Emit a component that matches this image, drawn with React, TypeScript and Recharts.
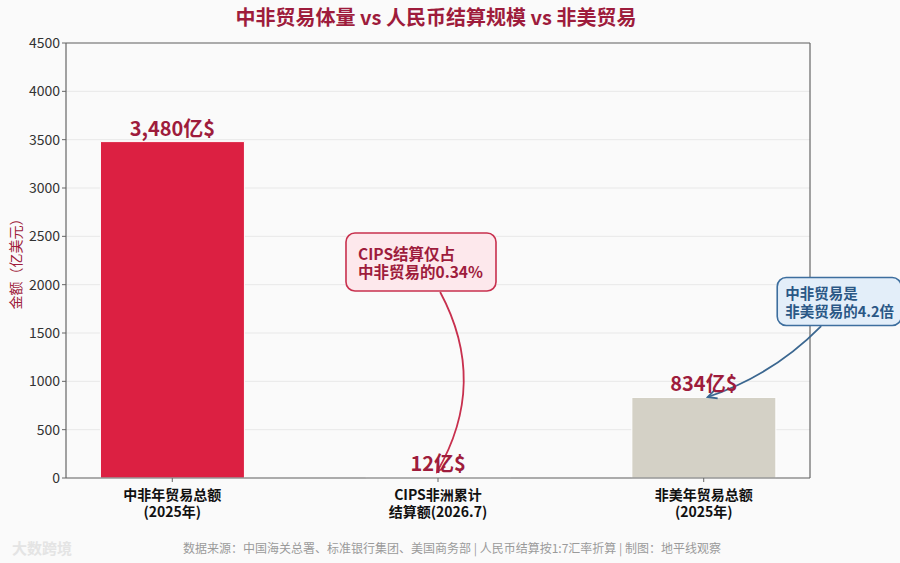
import React from 'react';
import {
  BarChart,
  Bar,
  XAxis,
  YAxis,
  CartesianGrid,
  Cell,
  LabelList,
  ReferenceLine,
  ReferenceDot,
} from 'recharts';

// ---- data ----
const categories = ['中非年贸易总额|(2025年)', 'CIPS非洲累计|结算额(2026.7)', '非美年贸易总额|(2025年)'];
const positions = [0, 1, 2];
const values = [3480, 12, 834];
const valueLabels = ['3,480亿$', '12亿$', '834亿$'];
const barColors = ['#dc2042', '#ececec', '#d4d1c6'];
const yTicks = [0, 500, 1000, 1500, 2000, 2500, 3000, 3500, 4000, 4500];

// annotation anchors (data units)
const note1Lines = ['CIPS结算仅占', '中非贸易的0.34%'];
const note1Center = { x: 0.936, y: 2234 };
const note1Arrow = [{ x: 1.008, y: 1924 }, { x: 0.996, y: 62 }];
const note2Lines = ['中非贸易是', '非美贸易的4.2倍'];
const note2Center = { x: 2.51, y: 1826 };
const note2Arrow = [{ x: 2.442, y: 1572 }, { x: 2.015, y: 838 }];

const data = positions.map((p, i) => ({
  pos: p,
  value: values[i],
  label: valueLabels[i],
  name: categories[i],
}));

const FONT = '"Noto Sans CJK SC", "Noto Sans", sans-serif';
const CRIMSON = '#9e1c3c';

const XTick = (props: any) => {
  const { x, y, payload } = props;
  const idx = positions.indexOf(payload.value);
  if (idx < 0) return null;
  const lines = categories[idx].split('|');
  return (
    <g>
      {lines.map((l, i) => (
        <text
          key={i}
          x={x}
          y={y + 10 + i * 16.5}
          dominantBaseline="central"
          textAnchor="middle"
          fontFamily={FONT}
          fontSize={14}
          fontWeight={700}
          fill="#111"
        >
          {l}
        </text>
      ))}
    </g>
  );
};

const makeBox = (lines: string[], w: number, h: number, fill: string, stroke: string, color: string, fs: number, pad: number) => (props: any) => {
  const { cx, cy } = props;
  if (cx == null || cy == null) return null;
  const x0 = cx - w / 2;
  const y0 = cy - h / 2;
  return (
    <g>
      <rect x={x0} y={y0} width={w} height={h} rx={9} ry={9} fill={fill} stroke={stroke} strokeWidth={1.6} />
      {lines.map((l, i) => (
        <text
          key={i}
          x={x0 + pad}
          y={cy - 9 + i * 18}
          dominantBaseline="central"
          fontFamily={FONT}
          fontSize={fs}
          fontWeight={700}
          fill={color}
        >
          {l}
        </text>
      ))}
    </g>
  );
};

const makeArrow = (rad: number, color: string) => (props: any) => {
  const { x1, y1, x2, y2 } = props;
  if ([x1, y1, x2, y2].some((v) => v == null || isNaN(v))) return null;
  const dx = x2 - x1;
  const dy = y2 - y1;
  const mx = (x1 + x2) / 2;
  const my = (y1 + y2) / 2;
  const cx = mx + rad * dy;
  const cy = my - rad * dx;
  const ax = x2 - cx;
  const ay = y2 - cy;
  const len = Math.sqrt(ax * ax + ay * ay) || 1;
  const ux = ax / len;
  const uy = ay / len;
  const hl = 9;
  const hw = 4.5;
  const p1x = x2 - ux * hl - uy * hw;
  const p1y = y2 - uy * hl + ux * hw;
  const p2x = x2 - ux * hl + uy * hw;
  const p2y = y2 - uy * hl - ux * hw;
  return (
    <g>
      <path d={`M${x1},${y1} Q${cx},${cy} ${x2},${y2}`} fill="none" stroke={color} strokeWidth={1.8} />
      <path d={`M${p1x},${p1y} L${x2},${y2} L${p2x},${p2y}`} fill="none" stroke={color} strokeWidth={1.8} />
    </g>
  );
};

const YLabel = (props: any) => {
  const { viewBox } = props;
  const cy = viewBox.y + viewBox.height / 2;
  return (
    <text
      x={15}
      y={cy}
      transform={`rotate(-90, 15, ${cy})`}
      textAnchor="middle"
      dominantBaseline="central"
      fontFamily={FONT}
      fontSize={14}
      fill={CRIMSON}
    >
      金额（亿美元）
    </text>
  );
};

export default function App() {
  return (
    <div style={{ position: 'absolute', left: 0, top: 0, width: 900, height: 563, background: '#fafafa', fontFamily: FONT, overflow: 'hidden' }}>
      <div
        style={{
          position: 'absolute',
          left: 0,
          width: 872,
          top: 4,
          textAlign: 'center',
          fontSize: 20,
          fontWeight: 700,
          color: CRIMSON,
          lineHeight: '26px',
        }}
      >
        中非贸易体量 vs 人民币结算规模 vs 非美贸易
      </div>
      <BarChart
        width={900}
        height={563}
        data={data}
        margin={{ top: 43, right: 90, bottom: 55, left: 6 }}
        style={{ position: 'absolute', left: 0, top: 0 }}
      >
        <CartesianGrid horizontal vertical={false} stroke="#e8e8e8" strokeWidth={1} />
        <XAxis
          dataKey="pos"
          type="number"
          domain={[-0.4, 2.4]}
          ticks={positions}
          allowDataOverflow
          interval={0}
          height={30}
          tick={<XTick />}
          tickLine={{ stroke: '#666' }}
          tickSize={4}
          axisLine={{ stroke: '#666', strokeWidth: 1.2 }}
        />
        <YAxis
          type="number"
          domain={[0, 4500]}
          ticks={yTicks}
          interval={0}
          width={60}
          tickSize={4}
          tickLine={{ stroke: '#666' }}
          axisLine={{ stroke: '#666', strokeWidth: 1.2 }}
          tick={{ fontFamily: FONT, fontSize: 14, fill: '#333' }}
          label={<YLabel />}
        />
        <ReferenceLine y={4500} stroke="#666" strokeWidth={1.2} ifOverflow="visible" />
        <ReferenceLine x={2.4} stroke="#666" strokeWidth={1.2} ifOverflow="visible" />
        <Bar dataKey="value" barSize={144} isAnimationActive={false} stroke="#ffffff" strokeWidth={1}>
          {data.map((d, i) => (
            <Cell key={i} fill={barColors[i]} />
          ))}
          <LabelList
            dataKey="label"
            position="top"
            offset={6}
            style={{ fontFamily: FONT, fontSize: 20, fontWeight: 700, fill: CRIMSON }}
          />
        </Bar>
        <ReferenceLine
          segment={note1Arrow}
          ifOverflow="visible"
          shape={makeArrow(0.28, '#c8304e')}
        />
        <ReferenceDot
          x={note1Center.x}
          y={note1Center.y}
          ifOverflow="visible"
          shape={makeBox(note1Lines, 150, 58, '#fde8ec', '#c8304e', CRIMSON, 15.5, 12)}
        />
        <ReferenceLine
          segment={note2Arrow}
          ifOverflow="visible"
          shape={makeArrow(0.12, '#3b6790')}
        />
        <ReferenceDot
          x={note2Center.x}
          y={note2Center.y}
          ifOverflow="visible"
          shape={makeBox(note2Lines, 124, 48, '#e3eef9', '#3d6e9e', '#2a5785', 14.5, 8)}
        />
      </BarChart>
      <div
        style={{
          position: 'absolute',
          left: 0,
          width: 904,
          top: 540,
          textAlign: 'center',
          fontSize: 12,
          color: '#9a9a9a',
          lineHeight: '16px',
        }}
      >
        数据来源：中国海关总署、标准银行集团、美国商务部 | 人民币结算按1:7汇率折算 | 制图：地平线观察
      </div>
      <div
        style={{
          position: 'absolute',
          left: 12,
          top: 538,
          fontSize: 15,
          fontWeight: 700,
          color: '#e4e4e4',
          lineHeight: '20px',
        }}
      >
        大数跨境
      </div>
    </div>
  );
}
